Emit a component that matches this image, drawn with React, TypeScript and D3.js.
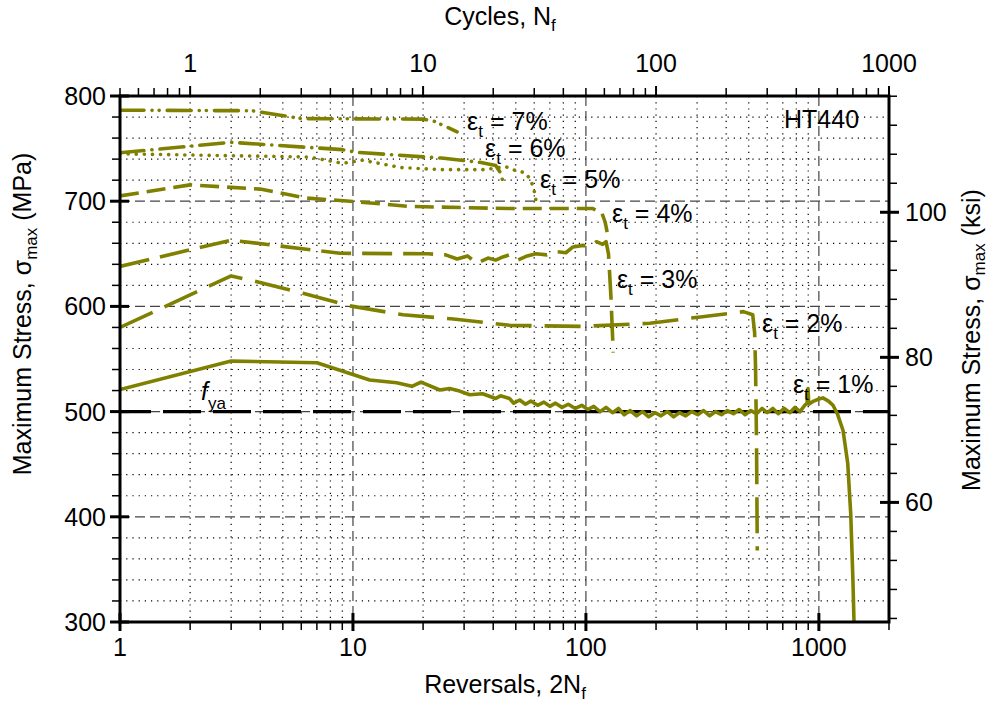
import React from 'react';
import * as d3 from 'd3';

// ---------- data ----------
// reversals (2Nf), maximum stress (MPa)
const series7: [number, number][] = [
  [1, 786.5], [3.7, 786], [6, 778.5], [20, 778], [22, 776.5], [25, 771], [28, 766],
];
const series6: [number, number][] = [
  [1, 746], [3, 756], [9, 749], [10.3, 746.5], [24, 741], [35, 737], [41, 734], [43, 727], [44, 719],
];
const series5: [number, number][] = [
  [1, 745], [6.5, 742], [9, 736], [11, 739], [16, 732], [24, 730], [37, 730], [45, 733],
  [50, 729], [55, 727], [58, 720], [60, 710], [61, 701],
];
const series4: [number, number][] = [
  [1, 705], [2, 715.5], [4, 711.5], [6.3, 703], [9.7, 700], [17.6, 695], [47, 693],
  [107, 693], [117, 689], [121, 680], [124, 668],
];
const series3: [number, number][] = [
  [1, 638], [3, 663], [8.8, 650.5], [21, 650], [25, 649], [28, 645], [31, 648], [34, 641],
  [38, 646], [41, 644], [44, 647], [47, 649], [51, 644], [56, 648], [61, 650], [68, 649],
  [75, 652], [82, 651], [88, 656.5], [97, 658], [104, 657], [111, 661.5], [118, 659],
  [122, 661.5], [125, 650], [128, 610], [131, 556],
];
const series2: [number, number][] = [
  [1, 580], [3, 629], [3.7, 624.5], [6.1, 612.5], [9.7, 600.5], [16.4, 592], [27, 588],
  [47, 582], [98, 581], [188, 584], [310, 590], [474, 595], [520, 592], [530, 575],
  [535, 540], [540, 470], [544, 368],
];
const series1: [number, number][] = [
  [1, 521], [3, 548], [7, 546.5], [11.8, 530], [15.4, 527.5], [17.9, 524], [19.6, 528],
  [23.6, 520.5], [26, 522], [28.7, 519.5], [31.7, 516], [36, 517], [41, 512.5], [43, 515],
  [47, 512.5], [49, 508], [52, 511], [55, 507], [58, 510], [62, 506], [66, 509], [70, 505],
  [74, 508], [79, 504], [84, 507], [90, 503], [96, 506], [102, 502], [108, 505], [115, 500],
  [122, 504], [130, 499], [138, 503], [146, 497], [155, 501], [165, 496], [175, 500],
  [186, 495], [198, 499], [210, 496], [224, 500], [238, 495], [252, 499], [268, 496],
  [285, 500], [302, 497], [320, 501], [340, 496], [360, 500], [382, 497], [405, 501],
  [430, 498], [455, 502], [482, 497], [510, 501], [540, 498], [570, 503], [600, 499],
  [635, 503], [670, 498], [710, 503], [750, 499], [790, 504], [830, 500], [870, 506],
  [890, 508], [898, 522], [905, 507], [950, 510], [1000, 512], [1040, 513], [1100, 510],
  [1150, 506], [1200, 498], [1270, 482], [1330, 451], [1370, 403], [1400, 340], [1415, 300],
];

const seriesNames = ['7%', '6%', '5%', '4%', '3%', '2%', '1%'];
const seriesData = [series7, series6, series5, series4, series3, series2, series1];

// label anchors (reversals, stress)
const labelPos: [number, number][] = [
  [30.9, 767.7], [36.9, 742], [63.5, 712.5], [129.4, 680], [135.9, 617.5], [570, 575.7], [774, 517.7],
];

const xMajor = [1, 10, 100, 1000];
const topMajor = [1, 10, 100, 1000];
const yMajor = [300, 400, 500, 600, 700, 800];
const ksiMajor = [60, 80, 100];
const fya = 500;

// ---------- layout ----------
const W = 990;
const H = 715;
const L = 120;
const R = 889;
const T = 96;
const B = 622;
const OLIVE = '#808000';
const FONT = 'Arial, "Liberation Sans", sans-serif';
const MPA_PER_KSI = 6.894757;
const FS = 25;
const SUB = 17;

const dashes: Record<string, string> = {
  '7%': '24,8,0.1,7,0.1,8',
  '6%': '24,8,0.1,8',
  '5%': '0.1,8',
  '4%': '19,8',
  '3%': '30,11',
  '2%': '36,13',
  '1%': '',
};
const caps: Record<string, string> = {
  '7%': 'round', '6%': 'round', '5%': 'round', '4%': 'butt', '3%': 'butt', '2%': 'butt', '1%': 'round',
};

export default function App() {
  const x = d3.scaleLog().domain([1, 2000]).range([L, R]);
  const xTop = d3.scaleLog().domain([0.5, 1000]).range([L, R]);
  const y = d3.scaleLinear().domain([300, 800]).range([B, T]);
  const yK = d3.scaleLinear().domain([300 / MPA_PER_KSI, 800 / MPA_PER_KSI]).range([B, T]);

  const xMinor: number[] = [];
  for (const d of [1, 10, 100, 1000]) for (let k = 2; k <= 9; k++) if (d * k <= 2000) xMinor.push(d * k);
  const topMinor: number[] = [];
  for (const d of [0.1, 1, 10, 100]) for (let k = 2; k <= 9; k++) if (d * k >= 0.5 && d * k <= 1000) topMinor.push(d * k);
  const yMinor = d3.range(320, 800, 20).filter((v) => v % 100 !== 0);
  const ksiMinor = d3.range(44, 117, 4).filter((v) => !ksiMajor.includes(v) && yK(v) >= T - 0.5);

  const line = d3
    .line<[number, number]>()
    .x((d) => x(d[0]))
    .y((d) => y(d[1]));

  const sub = { fontSize: SUB } as React.CSSProperties;

  return (
    <svg width={W} height={H} style={{ position: 'absolute', left: 0, top: 0, background: '#fff' }} fontFamily={FONT}>
      <defs>
        <clipPath id="plot">
          <rect x={L} y={T} width={R - L} height={B - T} />
        </clipPath>
      </defs>
      <rect x={0} y={0} width={W} height={H} fill="#fff" />

      {/* dotted minor grid */}
      <g stroke="#000" strokeWidth={1.2} strokeDasharray="1.2,5">
        {xMinor.map((v) => (
          <line key={'gx' + v} x1={x(v)} x2={x(v)} y1={T} y2={B} />
        ))}
        {yMinor.map((v) => (
          <line key={'gy' + v} x1={L} x2={R} y1={y(v)} y2={y(v)} />
        ))}
      </g>
      {/* dashed major grid */}
      <g stroke="#444" strokeWidth={1.2} strokeDasharray="10,5">
        {xMajor.filter((v) => v > 1).map((v) => (
          <line key={'mx' + v} x1={x(v)} x2={x(v)} y1={T} y2={B} />
        ))}
        {yMajor.filter((v) => v > 300 && v < 800).map((v) => (
          <line key={'my' + v} x1={L} x2={R} y1={y(v)} y2={y(v)} />
        ))}
      </g>

      {/* f_ya line */}
      <line x1={L} x2={R} y1={y(fya)} y2={y(fya)} stroke="#000" strokeWidth={3.2} strokeDasharray="38,12" strokeDashoffset={7} />

      {/* series */}
      <g clipPath="url(#plot)" fill="none" stroke={OLIVE} strokeWidth={3.6} strokeLinejoin="round">
        {seriesData.map((s, i) => (
          <path
            key={seriesNames[i]}
            d={line(s) || ''}
            strokeDasharray={dashes[seriesNames[i]] || undefined}
            strokeLinecap={caps[seriesNames[i]] as any}
          />
        ))}
      </g>

      {/* frame */}
      <rect x={L} y={T} width={R - L} height={B - T} fill="none" stroke="#000" strokeWidth={3} />

      {/* ticks */}
      <g stroke="#000">
        {xMinor.map((v) => (
          <line key={'bt' + v} x1={x(v)} x2={x(v)} y1={B} y2={B + 8} strokeWidth={1.5} />
        ))}
        {xMajor.map((v) => (
          <line key={'bM' + v} x1={x(v)} x2={x(v)} y1={B - 9} y2={B + 9} strokeWidth={3} />
        ))}
        {topMinor.map((v) => (
          <line key={'tt' + v} x1={xTop(v)} x2={xTop(v)} y1={T} y2={T - 8} strokeWidth={1.5} />
        ))}
        {topMajor.map((v) => (
          <line key={'tM' + v} x1={xTop(v)} x2={xTop(v)} y1={T} y2={T - 10} strokeWidth={2} />
        ))}
        {yMinor.map((v) => (
          <line key={'lt' + v} x1={L} x2={L - 8} y1={y(v)} y2={y(v)} strokeWidth={1.5} />
        ))}
        {yMajor.map((v) => (
          <line key={'lM' + v} x1={L - 10} x2={L + 9} y1={y(v)} y2={y(v)} strokeWidth={3} />
        ))}
        {ksiMinor.map((v) => (
          <line key={'rt' + v} x1={R} x2={R + 8} y1={yK(v)} y2={yK(v)} strokeWidth={1.5} />
        ))}
        {ksiMajor.map((v) => (
          <line key={'rM' + v} x1={R - 9} x2={R + 10} y1={yK(v)} y2={yK(v)} strokeWidth={3} />
        ))}
      </g>

      {/* tick labels */}
      <g fontSize={FS} fill="#000">
        {xMajor.map((v) => (
          <text key={'bl' + v} x={x(v)} y={656} textAnchor="middle">{v}</text>
        ))}
        {topMajor.map((v) => (
          <text key={'tl' + v} x={xTop(v)} y={72} textAnchor="middle">{v}</text>
        ))}
        {yMajor.map((v) => (
          <text key={'ll' + v} x={106} y={y(v)} dy="0.36em" textAnchor="end">{v}</text>
        ))}
        {ksiMajor.map((v) => (
          <text key={'rl' + v} x={905} y={yK(v)} dy="0.36em" textAnchor="start">{v}</text>
        ))}
      </g>

      {/* axis titles */}
      <g fontSize={FS} fill="#000">
        <text x={505} y={693} textAnchor="middle">
          Reversals, 2N<tspan style={sub} dy={6}>f</tspan>
        </text>
        <text x={500} y={25} textAnchor="middle">
          Cycles, N<tspan style={sub} dy={6}>f</tspan>
        </text>
        <text transform="translate(31,314) rotate(-90)" textAnchor="middle">
          Maximum Stress, σ<tspan style={sub} dy={6}>max</tspan><tspan dy={-6}> (MPa)</tspan>
        </text>
        <text transform="translate(980,340) rotate(-90)" textAnchor="middle">
          Maximum Stress, σ<tspan style={sub} dy={5}>max</tspan><tspan dy={-5}> (ksi)</tspan>
        </text>
      </g>

      {/* series labels */}
      <g fontSize={FS} fill="#000">
        {seriesNames.map((n, i) => (
          <text key={'sl' + n} x={x(labelPos[i][0])} y={y(labelPos[i][1])}>
            ε<tspan style={sub} dy={7}>t</tspan><tspan dy={-7}> = {n}</tspan>
          </text>
        ))}
        <text x={784} y={128}>HT440</text>
        <text x={201} y={400}>
          <tspan fontStyle="italic">f</tspan><tspan style={sub} dy={9}>ya</tspan>
        </text>
      </g>
    </svg>
  );
}
